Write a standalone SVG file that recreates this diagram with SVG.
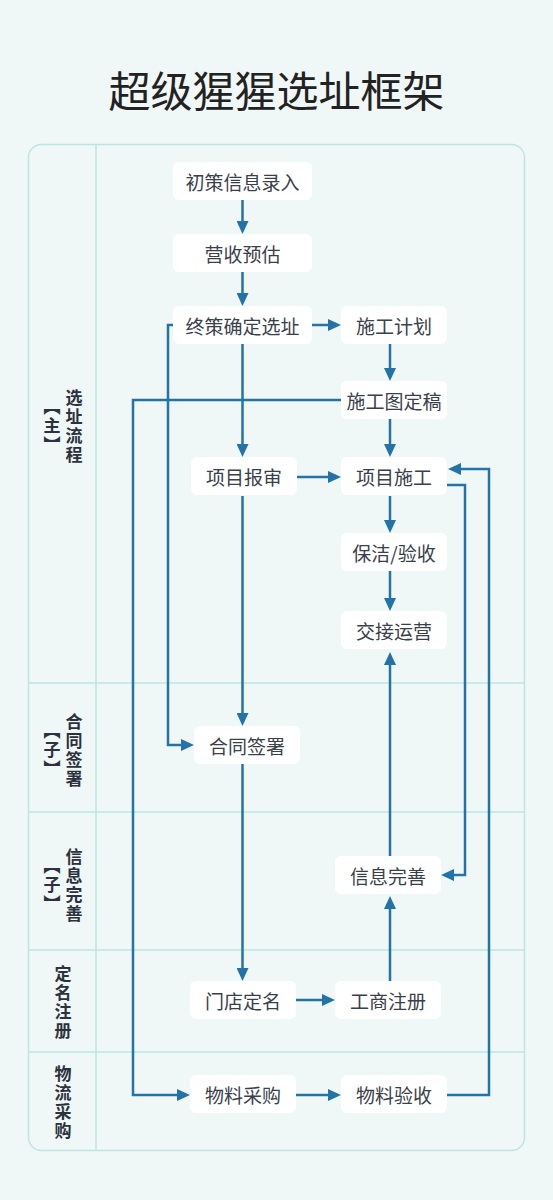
<svg xmlns="http://www.w3.org/2000/svg" width="553" height="1200" viewBox="0 0 553 1200">
<style>
.node rect{fill:#ffffff;}
.node text{font-family:"Noto Sans CJK SC","Noto Sans",sans-serif;font-size:19px;fill:#3a404b;text-anchor:middle;dominant-baseline:central;}
.lane{font-family:"Noto Sans CJK SC","Noto Sans",sans-serif;font-size:17px;font-weight:bold;fill:#2b323d;writing-mode:vertical-rl;text-anchor:middle;letter-spacing:2px;}
.sep{stroke:#bde6e3;stroke-width:1.5;fill:none;}
#connectors path{fill:none;stroke:#2473a8;stroke-width:2.5;marker-end:url(#arr);}
</style>
<defs>
<marker id="arr" markerUnits="userSpaceOnUse" markerWidth="13" markerHeight="12" refX="1" refY="6" orient="auto">
<path d="M0,0 L13,6 L0,12 z" fill="#2473a8"/>
</marker>
</defs>
<rect x="0" y="0" width="553" height="1200" fill="#f0f7f7"/>
<text x="276.5" y="88" font-family="Noto Sans CJK SC, Noto Sans, sans-serif" font-size="42" fill="#222222" text-anchor="middle" dominant-baseline="central">超级猩猩选址框架</text>
<g id="lanes">
<rect x="28.5" y="144.5" width="496" height="1006" rx="13" class="sep"/>
<line x1="96" y1="144.5" x2="96" y2="1150.5" class="sep"/>
<line x1="28.5" y1="683" x2="524.5" y2="683" class="sep"/>
<line x1="28.5" y1="812" x2="524.5" y2="812" class="sep"/>
<line x1="28.5" y1="950" x2="524.5" y2="950" class="sep"/>
<line x1="28.5" y1="1052" x2="524.5" y2="1052" class="sep"/>
<text class="lane" x="74" y="427">选址流程</text>
<text class="lane" x="52" y="427">【主】</text>
<text class="lane" x="74" y="751">合同签署</text>
<text class="lane" x="52" y="751">【子】</text>
<text class="lane" x="74" y="886">信息完善</text>
<text class="lane" x="52" y="886">【子】</text>
<text class="lane" x="63" y="1003">定名注册</text>
<text class="lane" x="63" y="1103">物流采购</text>
</g>
<g id="connectors">
<path d="M242.5,200 V222"/>
<path d="M242.5,272 V294"/>
<path d="M312,325 H329"/>
<path d="M390,344 V369"/>
<path d="M390,419 V445"/>
<path d="M242.5,344 V445"/>
<path d="M297,477 H329"/>
<path d="M390,496 V521"/>
<path d="M390,571 V599"/>
<path d="M341,400 H133 V1095 H178"/>
<path d="M173,325 H168 V745 H182"/>
<path d="M242.5,496 V714"/>
<path d="M242.5,764 V969"/>
<path d="M296,1000 H323"/>
<path d="M390,981 V908"/>
<path d="M390,856 V664"/>
<path d="M447,485 H465 V875 H453"/>
<path d="M447,1095 H489 V469 H460"/>
<path d="M296,1095 H329"/>
</g>
<g id="n1" class="node"><rect x="173" y="162" width="139" height="38" rx="6"/><text x="242.5" y="181">初策信息录入</text></g>
<g id="n2" class="node"><rect x="173" y="234" width="139" height="38" rx="6"/><text x="242.5" y="253">营收预估</text></g>
<g id="n3" class="node"><rect x="173" y="306" width="139" height="38" rx="6"/><text x="242.5" y="325">终策确定选址</text></g>
<g id="n4" class="node"><rect x="341" y="306" width="106" height="38" rx="6"/><text x="394" y="325">施工计划</text></g>
<g id="n5" class="node"><rect x="341" y="381" width="106" height="38" rx="6"/><text x="394" y="400">施工图定稿</text></g>
<g id="n6" class="node"><rect x="191" y="457" width="106" height="38" rx="6"/><text x="244" y="476">项目报审</text></g>
<g id="n7" class="node"><rect x="341" y="457" width="106" height="38" rx="6"/><text x="394" y="476">项目施工</text></g>
<g id="n8" class="node"><rect x="341" y="533" width="106" height="38" rx="6"/><text x="394" y="552">保洁/验收</text></g>
<g id="n9" class="node"><rect x="341" y="611" width="106" height="38" rx="6"/><text x="394" y="630">交接运营</text></g>
<g id="n10" class="node"><rect x="194" y="726" width="106" height="38" rx="6"/><text x="247" y="745">合同签署</text></g>
<g id="n11" class="node"><rect x="335" y="856" width="106" height="38" rx="6"/><text x="388" y="875">信息完善</text></g>
<g id="n12" class="node"><rect x="190" y="981" width="106" height="38" rx="6"/><text x="243" y="1000">门店定名</text></g>
<g id="n13" class="node"><rect x="335" y="981" width="106" height="38" rx="6"/><text x="388" y="1000">工商注册</text></g>
<g id="n14" class="node"><rect x="190" y="1075" width="106" height="38" rx="6"/><text x="243" y="1094">物料采购</text></g>
<g id="n15" class="node"><rect x="341" y="1075" width="106" height="38" rx="6"/><text x="394" y="1094">物料验收</text></g>
</svg>
